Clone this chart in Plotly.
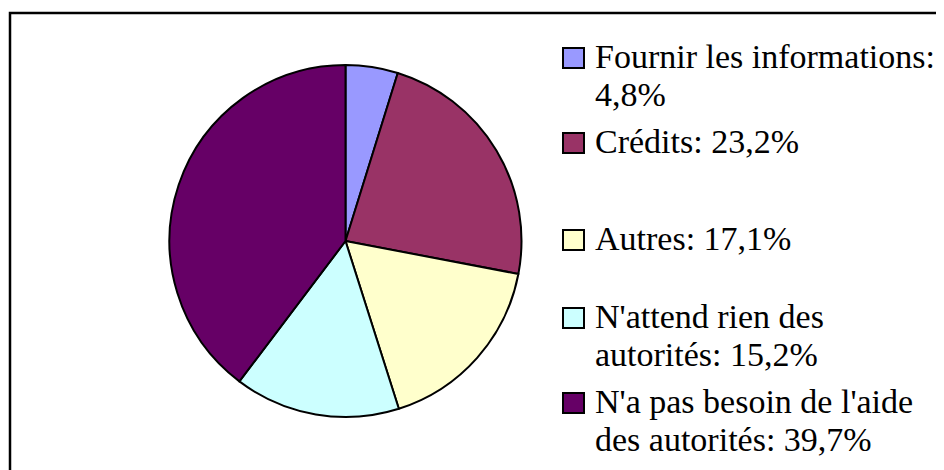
import plotly.graph_objects as go

# ---- data ----
labels = ["Fournir les informations", "Crédits", "Autres",
          "N'attend rien des<br>autorités", "N'a pas besoin de l'aide<br>des autorités"]
legend_breaks = [True, False, False, False, False]  # put value on next line
values = [4.8, 23.2, 17.1, 15.2, 39.7]
colors = ["#9999FF", "#993366", "#FFFFCC", "#CCFFFF", "#660066"]

W, H = 944, 470
OFF = 8  # page body margin
FONT = "Liberation Serif"
FS = 34

def px_x(x):
    return (x - OFF) / W

def px_y(y):
    return 1 - (y - OFF) / H

cx, cy, r = 345.5, 241, 176

fig = go.Figure(go.Pie(
    labels=[l.replace("<br>", " ") for l in labels],
    values=values,
    sort=False,
    direction="clockwise",
    rotation=0,
    marker=dict(colors=colors, line=dict(color="black", width=2)),
    textinfo="none",
    hoverinfo="label+percent",
    showlegend=False,
    domain=dict(x=[px_x(cx - r), px_x(cx + r)], y=[px_y(cy + r), px_y(cy - r)]),
))

# custom legend (positions in pixels)
first_baselines = [68, 153, 250, 328, 413]
line_gap = 38
square_x0, square_x1 = 563, 584
text_x = 593

shapes = [dict(type="rect", xref="paper", yref="paper",
               x0=px_x(10), x1=px_x(W + 40), y0=px_y(H + 40), y1=px_y(13),
               line=dict(color="black", width=2.5), fillcolor="rgba(0,0,0,0)")]
annotations = []
for i, (lab, val, col) in enumerate(zip(labels, values, colors)):
    vstr = f"{val:.1f}".replace(".", ",") + "%"
    full = lab + ":" + ("<br>" if legend_breaks[i] else " ") + vstr
    lines = full.split("<br>")
    b = first_baselines[i]
    shapes.append(dict(type="rect", xref="paper", yref="paper",
                       x0=px_x(square_x0), x1=px_x(square_x1),
                       y0=px_y(b), y1=px_y(b - 20),
                       fillcolor=col, line=dict(color="black", width=2)))
    for j, ln in enumerate(lines):
        yb = b + j * line_gap
        annotations.append(dict(text=ln, xref="paper", yref="paper",
                                x=px_x(text_x), y=px_y(yb - 11.5),
                                xanchor="left", yanchor="middle", showarrow=False,
                                font=dict(family=FONT, size=FS, color="black")))

fig.update_layout(
    width=W, height=H,
    margin=dict(l=0, r=0, t=0, b=0),
    paper_bgcolor="white", plot_bgcolor="white",
    shapes=shapes, annotations=annotations,
)

fig.write_html("out.html")
